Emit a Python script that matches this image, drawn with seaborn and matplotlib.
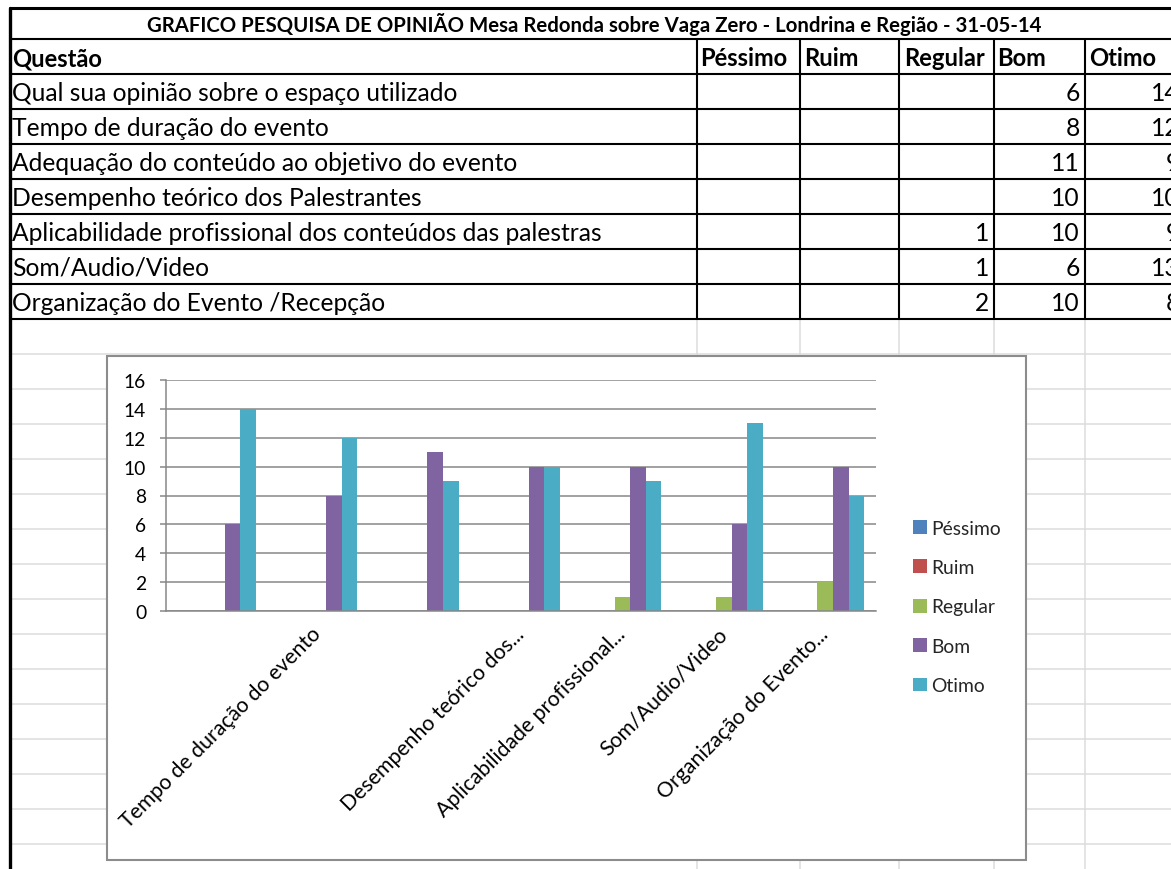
import numpy as np
import pandas as pd
import matplotlib
matplotlib.use("Agg")
import matplotlib.pyplot as plt
import seaborn as sns
from matplotlib.patches import Rectangle

# ---------------- data ----------------
titulo = "GRAFICO PESQUISA DE OPINIÃO Mesa Redonda sobre Vaga Zero - Londrina e Região - 31-05-14"
cabecalho = ["Questão", "Péssimo", "Ruim", "Regular", "Bom", "Otimo"]
questoes = [
    "Qual sua opinião sobre o espaço utilizado",
    "Tempo de duração do evento",
    "Adequação do conteúdo ao objetivo do evento",
    "Desempenho teórico dos Palestrantes",
    "Aplicabilidade profissional dos conteúdos das palestras",
    "Som/Audio/Video",
    "Organização do Evento /Recepção",
]
pessimo = [np.nan, np.nan, np.nan, np.nan, np.nan, np.nan, np.nan]
ruim = [np.nan, np.nan, np.nan, np.nan, np.nan, np.nan, np.nan]
regular = [np.nan, np.nan, np.nan, np.nan, 1, 1, 2]
bom = [6, 8, 11, 10, 10, 6, 10]
otimo = [14, 12, 9, 10, 9, 13, 8]
series = ["Péssimo", "Ruim", "Regular", "Bom", "Otimo"]
cores = ["#4F81BD", "#C0504D", "#9BBB59", "#8064A2", "#4BACC6"]
rotulos_eixo = ["", "Tempo de duração do evento", "", "Desempenho teórico dos...",
                "Aplicabilidade profissional...", "Som/Audio/Video", "Organização do Evento..."]
yticks = [0, 2, 4, 6, 8, 10, 12, 14, 16]

wide = pd.DataFrame({"Questão": questoes, "Péssimo": pessimo, "Ruim": ruim,
                     "Regular": regular, "Bom": bom, "Otimo": otimo})
long = wide.melt(id_vars="Questão", var_name="Avaliação", value_name="Respostas")
long["Respostas"] = long["Respostas"].fillna(0)

# ---------------- style ----------------
sns.set_theme(style="white")
FONT = "Lato"
plt.rcParams["font.family"] = [FONT, "DejaVu Sans"]

W, H = 1171, 870
fig = plt.figure(figsize=(W / 100, H / 100), dpi=100)
bg = fig.add_axes([0, 0, 1, 1])
bg.set_xlim(0, W)
bg.set_ylim(H, 0)
bg.axis("off")
renderer = fig.canvas.get_renderer()


def fit(text, target, **kw):
    t = bg.text(0, 0, text, fontsize=10, **kw)
    w = t.get_window_extent(renderer).width
    t.remove()
    return 10 * target / w


fs_title = fit(titulo, 896, weight="bold")
fs_head = fit("Péssimo", 88, weight="bold")
fs_body = fit(questoes[4], 593)
fs_leg = fit("Péssimo", 70)
fs_xl = fit("Tempo de duração do evento", 276)

GRID = "#dcdcdc"
rows = [40, 75, 110, 145, 180, 215, 250, 285, 320]
cols = [697, 800, 899, 994, 1085]
col_right = [994, 1085, 1185]

# light spreadsheet grid
for y in range(355, 880, 35):
    bg.plot([10, W], [y, y], color=GRID, lw=1.1, zorder=1)
for x in cols:
    bg.plot([x, x], [320, H], color=GRID, lw=1.1, zorder=1)

# table borders
bg.plot([10, W], [9, 9], color="black", lw=2.2, zorder=3)
for y in rows:
    bg.plot([10, W], [y, y], color="black", lw=1.5, zorder=3)
for x in cols:
    bg.plot([x, x], [40, 320], color="black", lw=1.5, zorder=3)
bg.plot([10, 10], [9, H], color="black", lw=2.4, zorder=3)

# table text
bg.text(594, 32, titulo, fontsize=fs_title, weight="bold", ha="center", va="baseline", color="black", zorder=4)
hx = [12, 700, 804, 904, 997, 1089]
for x, h in zip(hx, cabecalho):
    bg.text(x, 66, h, fontsize=fs_head, weight="bold", ha="left", va="baseline", color="black", zorder=4)
for i, q in enumerate(questoes):
    yb = rows[i + 2] - 9
    bg.text(12, yb, q, fontsize=fs_body, ha="left", va="baseline", color="black", zorder=4)
    for xr, arr in zip(col_right, [regular, bom, otimo]):
        v = arr[i]
        if not np.isnan(v):
            bg.text(xr - 5, yb, f"{int(v)}", fontsize=fs_body, ha="right", va="baseline",
                    color="black", zorder=4)

# chart frame
bg.add_patch(Rectangle((107, 357), 1026 - 107, 861 - 357, facecolor="white",
                       edgecolor="#8c8c8c", lw=1.5, zorder=5))

# ---------------- chart ----------------
ax = fig.add_axes([166 / W, 1 - 612 / H, 710 / W, 231 / H])
ax.set_facecolor("none")
sns.barplot(data=long, x="Questão", y="Respostas", hue="Avaliação", hue_order=series,
            order=questoes, palette=cores, saturation=1, width=0.769, gap=0,
            linewidth=0, errorbar=None, ax=ax)
ax.set_xlim(-0.5, 6.5)
ax.set_ylim(0, 16)
ax.set_yticks(yticks)
ax.yaxis.grid(True, color="#878787", lw=1.1)
ax.set_axisbelow(True)
for s in ["top", "right"]:
    ax.spines[s].set_visible(False)
for s in ["left", "bottom"]:
    ax.spines[s].set_color("#878787")
    ax.spines[s].set_linewidth(1.1)
ax.set_xticks(range(len(questoes)))
ax.set_xticklabels(rotulos_eixo, rotation=45, ha="right", va="center",
                   rotation_mode="anchor", fontsize=fs_xl, color="black")
ax.set_xticks(np.arange(-0.5, len(questoes), 1), minor=True)
ax.tick_params(axis="x", which="major", length=0, pad=14)
ax.tick_params(axis="x", which="minor", length=4.3, width=1.1, color="#878787", direction="out")
ax.tick_params(axis="y", length=4.3, width=1.1, color="#878787", pad=10,
               labelsize=fs_leg, labelcolor="black", direction="out", left=True)
ax.set_xlabel("")
ax.set_ylabel("")

handles, labels = ax.get_legend_handles_labels()
ax.get_legend().remove()
px = fs_leg * 100 / 72
fig.legend(handles, labels, loc="center left", bbox_to_anchor=(913 / W, 1 - 608 / H),
           frameon=False, fontsize=fs_leg, handlelength=14 / px, handleheight=14 / px,
           handletextpad=4 / px, labelspacing=1.16, borderpad=0, borderaxespad=0)

fig.savefig("out.png", dpi=100)
